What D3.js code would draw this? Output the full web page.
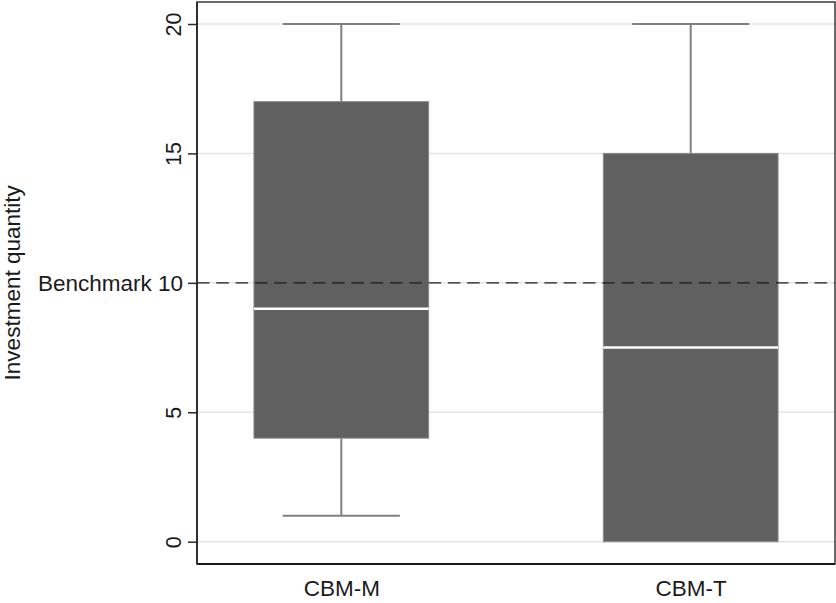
<!DOCTYPE html>
<html>
<head>
<meta charset="utf-8">
<script src="https://cdn.jsdelivr.net/npm/d3@7"></script>
<style>
  html, body { margin: 0; padding: 0; background: #fff; }
  svg { display: block; }
  text { font-family: "Liberation Sans", Arial, sans-serif; fill: #1a1a1a; }
</style>
</head>
<body>
<svg id="chart" width="836" height="603"></svg>
<script>
// Box-plot summaries for each treatment
const categories = ["CBM-M", "CBM-T"];
const whiskerLow = [1, 0];
const quartile1 = [4, 0];
const medians = [9, 7.5];
const quartile3 = [17, 15];
const whiskerHigh = [20, 20];

// Reference level and y-axis ticks
const benchmark = 10;
const yTicks = [0, 5, 10, 15, 20];
const yTickLabels = ["0", "5", "Benchmark 10", "15", "20"];
const yTitle = "Investment quantity";

const svg = d3.select("#chart");

const frame = { left: 197, right: 835, top: 2, bottom: 564 };

const y = d3.scaleLinear().domain([0, 20]).range([541.7, 24]);
const x = d3.scalePoint().domain(categories).range([frame.left, frame.right]).padding(0.413);
const step = x.step();
const boxW = step * 0.5;
const capW = step * 0.335;

const boxes = categories.map((c, i) => ({
  cat: c, lo: whiskerLow[i], q1: quartile1[i], med: medians[i], q3: quartile3[i], hi: whiskerHigh[i]
}));

// Horizontal grid lines
svg.append("g").selectAll("line").data(yTicks).join("line")
  .attr("x1", frame.left).attr("x2", frame.right)
  .attr("y1", d => y(d)).attr("y2", d => y(d))
  .attr("stroke", "#e3e3e3").attr("stroke-width", 1.5);

// Whiskers and caps
const g = svg.append("g");
boxes.forEach(b => {
  const cx = x(b.cat);
  if (b.hi > b.q3) {
    g.append("line").attr("x1", cx).attr("x2", cx).attr("y1", y(b.q3)).attr("y2", y(b.hi))
      .attr("stroke", "#808080").attr("stroke-width", 2);
    g.append("line").attr("x1", cx - capW / 2).attr("x2", cx + capW / 2).attr("y1", y(b.hi)).attr("y2", y(b.hi))
      .attr("stroke", "#808080").attr("stroke-width", 2);
  }
  if (b.lo < b.q1) {
    g.append("line").attr("x1", cx).attr("x2", cx).attr("y1", y(b.q1)).attr("y2", y(b.lo))
      .attr("stroke", "#808080").attr("stroke-width", 2);
    g.append("line").attr("x1", cx - capW / 2).attr("x2", cx + capW / 2).attr("y1", y(b.lo)).attr("y2", y(b.lo))
      .attr("stroke", "#808080").attr("stroke-width", 2);
  }
  // Interquartile box
  g.append("rect")
    .attr("x", cx - boxW / 2).attr("width", boxW)
    .attr("y", y(b.q3)).attr("height", y(b.q1) - y(b.q3))
    .attr("fill", "#606060").attr("stroke", "#8a8a8a").attr("stroke-width", 1);
  // Median
  g.append("line").attr("x1", cx - boxW / 2).attr("x2", cx + boxW / 2)
    .attr("y1", y(b.med)).attr("y2", y(b.med))
    .attr("stroke", "#ffffff").attr("stroke-width", 2.5);
});

// Benchmark reference line
svg.append("line")
  .attr("x1", frame.left).attr("x2", frame.right)
  .attr("y1", y(benchmark)).attr("y2", y(benchmark))
  .attr("stroke", "#1a1a1a").attr("stroke-width", 1.3)
  .attr("stroke-dasharray", "12.5,6.8");

// Plot frame
svg.append("rect")
  .attr("x", frame.left).attr("y", frame.top)
  .attr("width", frame.right - frame.left).attr("height", frame.bottom - frame.top)
  .attr("fill", "none").attr("stroke", "#3a3a3a").attr("stroke-width", 1.5);
svg.append("line").attr("x1", frame.left).attr("x2", frame.right)
  .attr("y1", frame.bottom).attr("y2", frame.bottom)
  .attr("stroke", "#1a1a1a").attr("stroke-width", 2.2);
svg.append("line").attr("x1", frame.left).attr("x2", frame.left)
  .attr("y1", frame.top).attr("y2", frame.bottom)
  .attr("stroke", "#2a2a2a").attr("stroke-width", 1.8);

// Y axis ticks and labels
const yAxis = d3.axisLeft(y).tickValues(yTicks).tickSize(9).tickPadding(7)
  .tickFormat((d, i) => yTickLabels[i]);
const ya = svg.append("g").attr("transform", `translate(${frame.left},0)`).call(yAxis);
ya.select(".domain").remove();
ya.selectAll(".tick line").attr("stroke", "#2a2a2a").attr("stroke-width", 1.5);
ya.selectAll(".tick text")
  .attr("fill", "#1a1a1a")
  .each(function(d) {
    const t = d3.select(this);
    if (d !== benchmark) {
      t.attr("font-size", 21.5).attr("transform", "rotate(-90)").attr("x", 0).attr("y", -16.5)
        .attr("dy", 0).attr("text-anchor", "middle");
    } else {
      t.attr("font-size", 22.5).attr("x", -14).attr("dy", "0.35em");
    }
  });

// X axis labels
const xAxis = d3.axisBottom(x).tickSize(0).tickPadding(0);
const xa = svg.append("g").attr("transform", `translate(0,${frame.bottom})`).call(xAxis);
xa.select(".domain").remove();
xa.selectAll(".tick text").attr("font-size", 22.5).attr("fill", "#1a1a1a").attr("dy", 0).attr("y", 32);

// Y axis title
svg.append("text")
  .attr("transform", `translate(20,${(y(0) + y(20)) / 2}) rotate(-90)`)
  .attr("text-anchor", "middle").attr("font-size", 22.5)
  .text(yTitle);
</script>
</body>
</html>
